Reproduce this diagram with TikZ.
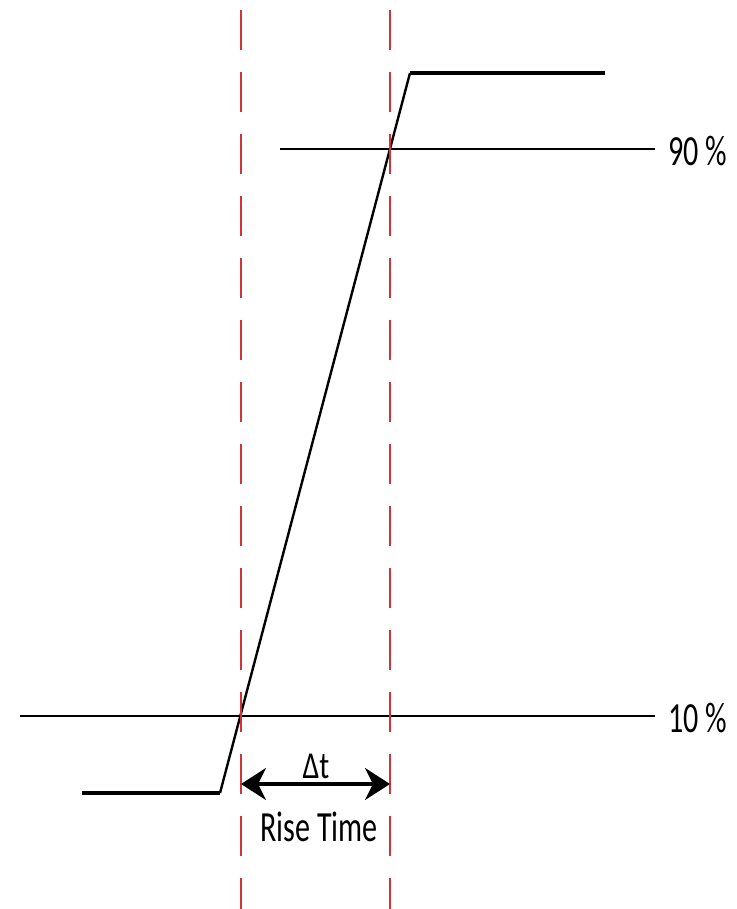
\documentclass[tikz,border=0pt]{standalone}
\usepackage{fontspec}
\setmainfont{Carlito}
\usetikzlibrary{arrows.meta}
\definecolor{dashred}{RGB}{208,52,56}
\tikzset{
  sig/.style={line width=4.5pt, line join=miter},
  ramp/.style={line width=2.4pt},
  level/.style={line width=1.4pt},
  marker/.style={dashred, line width=2.6pt, dash pattern=on 40pt off 22pt},
  lbl/.style={inner sep=0pt, font=\fontsize{43}{50}\selectfont},
  small/.style={inner sep=0pt, font=\fontsize{38}{44}\selectfont},
  tip/.style={},
  dim/.style={line width=3.4pt, {Stealth[length=25pt,width=32pt,inset=8pt]}-{Stealth[length=25pt,width=32pt,inset=8pt]}}
}
\begin{document}
\begin{tikzpicture}[x=1pt,y=-1pt]
\useasboundingbox (0,0) rectangle (736,909);
% signal
\coordinate (s0) at (82,793);
\coordinate (s1) at (220,793);
\coordinate (s2) at (410,73);
\coordinate (s3) at (605,73);
\draw[sig] (s0) -- (s1);
\draw[ramp] (s1) -- (s2);
\draw[sig] (s2) -- (s3);
% level lines
\coordinate (h9a) at (280,149);
\coordinate (h9b) at (655,149);
\coordinate (h1a) at (20,716);
\coordinate (h1b) at (655,716);
\draw[level] (h9a) -- (h9b);
\draw[level] (h1a) -- (h1b);
\node[lbl, anchor=west] (p90) at (668,151) {\scalebox{0.7}[1]{90 \%}};
\node[lbl, anchor=west] (p10) at (668,718) {\scalebox{0.7}[1]{10 \%}};
% markers
\coordinate (m1t) at (241,10);
\coordinate (m1b) at (241,909);
\coordinate (m2t) at (390,10);
\coordinate (m2b) at (390,909);
\draw[marker] (m1t) -- (m1b);
\draw[marker] (m2t) -- (m2b);
% dimension arrow
\coordinate (a1) at (241,784);
\coordinate (a2) at (390,784);
\draw[dim] (a1) -- (a2);
\node[small] (dt) at (316,766) {\scalebox{0.78}[1]{Δt}};
\node[lbl] (rt) at (319,827) {\scalebox{0.7}[1]{Rise Time}};
\end{tikzpicture}
\end{document}
